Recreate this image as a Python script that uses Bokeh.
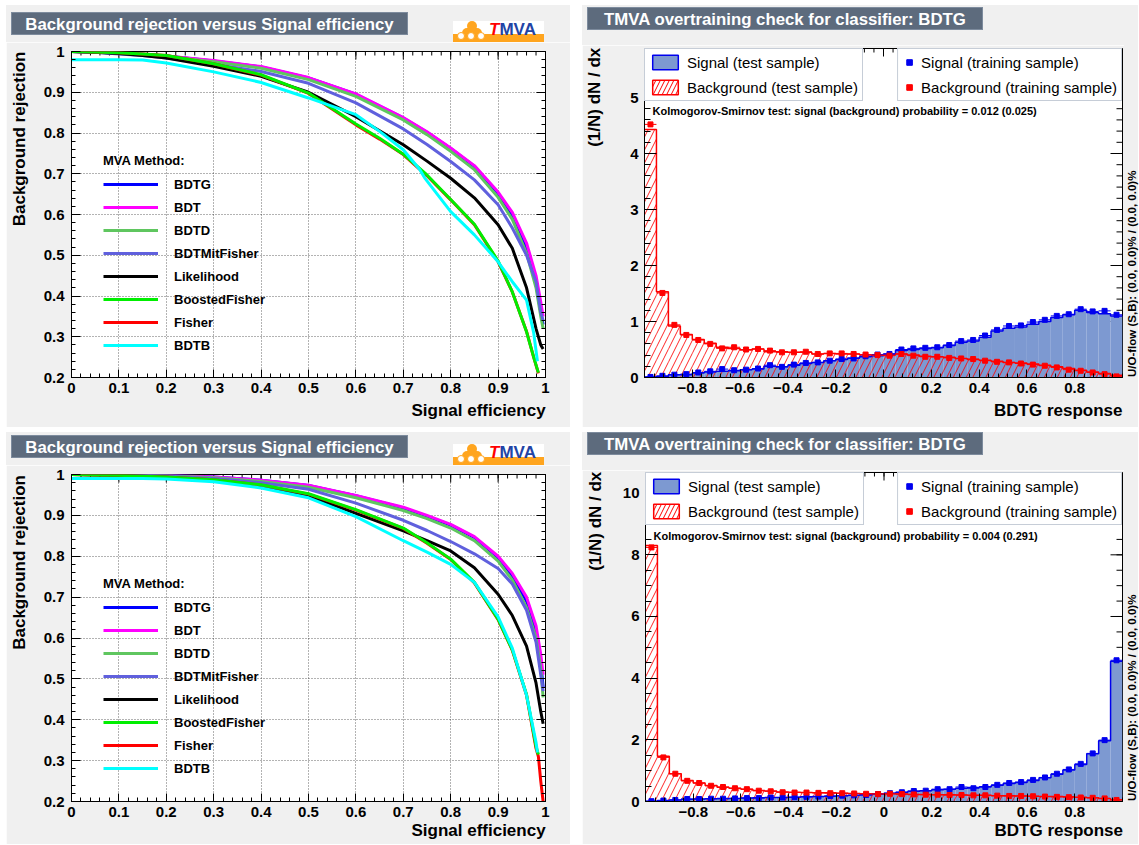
import numpy as np
from bokeh.plotting import figure
from bokeh.models import (ColumnDataSource, FixedTicker, Legend, LegendItem, LinearAxis, Range1d, Div, Label)
from bokeh.layouts import row, column
from bokeh.embed import file_html
from bokeh.resources import INLINE

FONT = "Liberation Sans"
CANVAS = "#f0f0f0"
TITLE_BOX = "#5D6B7D"
TITLE_BORDER = "#7D8B9D"
SIG_LINE = "#0000ee"
SIG_FILL = "#7d99d1"
BKG_LINE = "#ff0000"
NOVEL_BLUE = "#2244a5"
LOGO_ORANGE = "#ffa51f"
NBSP = "\u00a0"

# ---------------- ROC data ----------------
roc_methods = ["BDTG", "BDT", "BDTD", "BDTMitFisher", "Likelihood", "BoostedFisher", "Fisher", "BDTB"]
roc_draw_order = ["BDTG", "BDT", "BDTD", "BDTMitFisher", "Likelihood", "Fisher", "BoostedFisher", "BDTB"]
roc_colors = {"BDTG": "#0000ff", "BDT": "#ff00ff", "BDTD": "#5fc65f", "BDTMitFisher": "#6060dd",
              "Likelihood": "#000000", "BoostedFisher": "#00ee00", "Fisher": "#ff0000", "BDTB": "#00ffff"}

eff = [0.0, 0.05, 0.1, 0.15, 0.2, 0.3, 0.4, 0.5, 0.6, 0.7, 0.75, 0.8, 0.85, 0.9, 0.93, 0.96, 0.98, 0.99, 0.995]

# top-left panel
top_bdtg = [1.0, 0.999, 0.996, 0.993, 0.989, 0.977, 0.962, 0.935, 0.895, 0.837, 0.802, 0.762, 0.718, 0.652, 0.598, 0.515, 0.43, 0.36, 0.33]
top_bdt = [1.0, 0.999, 0.996, 0.993, 0.989, 0.978, 0.963, 0.936, 0.896, 0.838, 0.803, 0.763, 0.72, 0.655, 0.605, 0.53, 0.45, 0.385, 0.35]
top_bdtd = [1.0, 0.998, 0.995, 0.992, 0.988, 0.975, 0.959, 0.931, 0.89, 0.832, 0.796, 0.755, 0.71, 0.642, 0.588, 0.505, 0.42, 0.35, 0.32]
top_bdtmitfisher = [1.0, 0.998, 0.994, 0.99, 0.984, 0.969, 0.951, 0.922, 0.874, 0.81, 0.772, 0.73, 0.685, 0.624, 0.567, 0.5, 0.435, 0.36, 0.34]
top_likelihood = [1.0, 0.998, 0.995, 0.99, 0.984, 0.964, 0.939, 0.9, 0.84, 0.771, 0.731, 0.689, 0.641, 0.575, 0.517, 0.42, 0.32, 0.28, 0.27]
top_fisher_eff = [0.0, 0.05, 0.1, 0.15, 0.2, 0.3, 0.4, 0.5, 0.6, 0.65, 0.7, 0.75, 0.8, 0.85, 0.9, 0.93, 0.96, 0.975, 0.985]
top_fisher = [1.0, 0.999, 0.997, 0.994, 0.99, 0.97, 0.942, 0.897, 0.82, 0.785, 0.747, 0.695, 0.636, 0.575, 0.484, 0.41, 0.313, 0.25, 0.21]
top_boostedfisher = [1.0, 0.999, 0.997, 0.994, 0.99, 0.97, 0.943, 0.898, 0.822, 0.787, 0.748, 0.697, 0.637, 0.576, 0.486, 0.41, 0.312, 0.25, 0.212]
top_bdtb_eff = [0.0, 0.05, 0.1, 0.15, 0.2, 0.3, 0.4, 0.5, 0.6, 0.65, 0.7, 0.735, 0.745, 0.8, 0.85, 0.9, 0.93, 0.96, 0.975, 0.983]
top_bdtb = [0.98, 0.98, 0.98, 0.979, 0.972, 0.95, 0.924, 0.886, 0.845, 0.804, 0.759, 0.71, 0.69, 0.607, 0.55, 0.484, 0.435, 0.39, 0.31, 0.24]

# bottom-left panel
bot_bdtg = [1.0, 1.0, 1.0, 0.999, 0.998, 0.994, 0.986, 0.973, 0.948, 0.918, 0.898, 0.876, 0.846, 0.797, 0.752, 0.69, 0.615, 0.54, 0.48]
bot_bdt = [1.0, 1.0, 1.0, 0.999, 0.998, 0.994, 0.986, 0.974, 0.949, 0.92, 0.9, 0.878, 0.848, 0.8, 0.758, 0.7, 0.63, 0.56, 0.51]
bot_bdtd = [1.0, 1.0, 0.999, 0.998, 0.997, 0.992, 0.983, 0.969, 0.943, 0.912, 0.892, 0.869, 0.838, 0.788, 0.742, 0.675, 0.6, 0.525, 0.455]
bot_bdtmitfisher = [1.0, 1.0, 0.999, 0.998, 0.996, 0.99, 0.98, 0.964, 0.93, 0.888, 0.863, 0.836, 0.806, 0.77, 0.732, 0.668, 0.59, 0.51, 0.47]
bot_likelihood = [1.0, 0.999, 0.998, 0.996, 0.993, 0.985, 0.97, 0.948, 0.905, 0.862, 0.838, 0.813, 0.772, 0.707, 0.655, 0.58, 0.49, 0.42, 0.39]
bot_fisher_eff = [0.0, 0.05, 0.1, 0.15, 0.2, 0.3, 0.4, 0.5, 0.6, 0.7, 0.75, 0.8, 0.85, 0.9, 0.93, 0.96, 0.98, 0.985, 0.99, 0.995]
bot_fisher = [1.0, 0.999, 0.998, 0.996, 0.994, 0.987, 0.974, 0.952, 0.913, 0.868, 0.832, 0.792, 0.735, 0.645, 0.57, 0.46, 0.33, 0.31, 0.25, 0.2]
bot_boostedfisher_eff = [0.0, 0.05, 0.1, 0.15, 0.2, 0.3, 0.4, 0.5, 0.6, 0.7, 0.75, 0.8, 0.85, 0.9, 0.93, 0.96, 0.98, 0.985]
bot_boostedfisher = [1.0, 0.999, 0.998, 0.996, 0.994, 0.987, 0.975, 0.953, 0.914, 0.869, 0.833, 0.793, 0.736, 0.646, 0.571, 0.462, 0.335, 0.315]
bot_bdtb_eff = [0.0, 0.05, 0.1, 0.15, 0.2, 0.3, 0.4, 0.5, 0.6, 0.7, 0.75, 0.8, 0.85, 0.9, 0.93, 0.96, 0.98, 0.983]
bot_bdtb = [0.99, 0.99, 0.99, 0.99, 0.989, 0.982, 0.967, 0.943, 0.897, 0.838, 0.81, 0.78, 0.736, 0.652, 0.575, 0.46, 0.345, 0.32]

roc_x_ticks = [0.0, 0.1, 0.2, 0.3, 0.4, 0.5, 0.6, 0.7, 0.8, 0.9, 1.0]
roc_x_labels = ["0", "0.1", "0.2", "0.3", "0.4", "0.5", "0.6", "0.7", "0.8", "0.9", "1"]
roc_y_ticks = [0.2, 0.3, 0.4, 0.5, 0.6, 0.7, 0.8, 0.9, 1.0]
roc_y_labels = ["0.2", "0.3", "0.4", "0.5", "0.6", "0.7", "0.8", "0.9", "1"]

# ---------------- overtraining histograms (40 bins in [-1, 1]) ----------------
top_sig_test = [0.01, 0.02, 0.05, 0.05, 0.08, 0.10, 0.11, 0.12, 0.14, 0.15, 0.20, 0.19, 0.22, 0.25, 0.27, 0.30, 0.32, 0.35, 0.37, 0.39,
                0.42, 0.48, 0.50, 0.52, 0.53, 0.57, 0.63, 0.65, 0.72, 0.83, 0.88, 0.90, 0.95, 1.00, 1.07, 1.12, 1.20, 1.16, 1.14, 1.10]
top_sig_train = [0.01, 0.03, 0.05, 0.06, 0.09, 0.11, 0.15, 0.13, 0.14, 0.16, 0.22, 0.19, 0.23, 0.26, 0.27, 0.30, 0.33, 0.34, 0.38, 0.41,
                 0.42, 0.50, 0.52, 0.53, 0.54, 0.58, 0.65, 0.67, 0.75, 0.85, 0.92, 0.93, 0.99, 1.03, 1.10, 1.13, 1.22, 1.18, 1.19, 1.12]
top_bkg_test = [4.43, 1.53, 0.92, 0.77, 0.68, 0.61, 0.54, 0.52, 0.49, 0.51, 0.46, 0.46, 0.45, 0.45, 0.42, 0.43, 0.42, 0.42, 0.40, 0.40,
                0.40, 0.42, 0.40, 0.38, 0.37, 0.36, 0.34, 0.32, 0.31, 0.29, 0.27, 0.26, 0.24, 0.22, 0.19, 0.16, 0.13, 0.10, 0.07, 0.04]
top_bkg_train = [4.52, 1.51, 0.94, 0.76, 0.67, 0.60, 0.52, 0.54, 0.50, 0.51, 0.48, 0.45, 0.45, 0.46, 0.42, 0.43, 0.43, 0.42, 0.41, 0.40,
                 0.39, 0.42, 0.39, 0.37, 0.37, 0.35, 0.34, 0.33, 0.30, 0.28, 0.27, 0.25, 0.23, 0.21, 0.18, 0.14, 0.12, 0.09, 0.06, 0.02]

bot_sig_test = [0.01, 0.03, 0.05, 0.07, 0.08, 0.09, 0.10, 0.10, 0.11, 0.12, 0.13, 0.13, 0.14, 0.15, 0.16, 0.17, 0.19, 0.20, 0.22, 0.24,
                0.27, 0.30, 0.33, 0.35, 0.38, 0.40, 0.43, 0.45, 0.48, 0.53, 0.58, 0.62, 0.68, 0.77, 0.88, 1.02, 1.20, 1.55, 1.97, 4.55]
bot_sig_train = [0.01, 0.03, 0.05, 0.08, 0.08, 0.09, 0.09, 0.10, 0.11, 0.11, 0.13, 0.13, 0.14, 0.15, 0.16, 0.18, 0.19, 0.20, 0.21, 0.24,
                 0.27, 0.30, 0.34, 0.35, 0.40, 0.40, 0.47, 0.43, 0.47, 0.54, 0.60, 0.63, 0.70, 0.78, 0.90, 1.04, 1.22, 1.56, 1.99, 4.58]
bot_bkg_test = [8.30, 1.47, 0.90, 0.68, 0.60, 0.52, 0.46, 0.43, 0.40, 0.36, 0.34, 0.31, 0.30, 0.29, 0.28, 0.28, 0.27, 0.26, 0.25, 0.25,
                0.25, 0.24, 0.23, 0.23, 0.22, 0.22, 0.21, 0.20, 0.20, 0.19, 0.19, 0.18, 0.17, 0.16, 0.16, 0.15, 0.14, 0.12, 0.10, 0.06]
bot_bkg_train = [8.24, 1.43, 0.90, 0.67, 0.60, 0.51, 0.47, 0.43, 0.40, 0.35, 0.33, 0.30, 0.29, 0.29, 0.28, 0.27, 0.27, 0.26, 0.25, 0.24,
                 0.25, 0.24, 0.23, 0.22, 0.22, 0.21, 0.21, 0.20, 0.20, 0.19, 0.18, 0.18, 0.17, 0.16, 0.15, 0.14, 0.13, 0.12, 0.10, 0.05]

hist_x_ticks = [-0.8, -0.6, -0.4, -0.2, 0.0, 0.2, 0.4, 0.6, 0.8]
hist_x_labels = ["\u22120.8", "\u22120.6", "\u22120.4", "\u22120.2", "0", "0.2", "0.4", "0.6", "0.8"]
top_hist_y_ticks = [0, 1, 2, 3, 4, 5]
top_hist_y_labels = ["0", "1", "2", "3", "4", "5"]
bot_hist_y_ticks = [0, 2, 4, 6, 8, 10]
bot_hist_y_labels = ["0", "2", "4", "6", "8", "10"]

roc_title = "Background rejection versus Signal efficiency"
hist_title = "TMVA overtraining check for classifier: BDTG"
top_ks_text = "Kolmogorov-Smirnov test: signal (background) probability = 0.012 (0.025)"
bot_ks_text = "Kolmogorov-Smirnov test: signal (background) probability = 0.004 (0.291)"
uo_text = "U/O-flow (S,B): (0.0, 0.0)% / (0.0, 0.0)%"


# ---------------- helpers ----------------
def style_axis(ax, ticks, labels, minor, tick_len, standoff, show_labels=True):
    ax.ticker = FixedTicker(ticks=list(ticks), minor_ticks=list(minor))
    ax.axis_line_color = "black"
    ax.axis_line_width = 1
    ax.major_tick_in = tick_len
    ax.major_tick_out = 0
    ax.minor_tick_in = max(3, tick_len // 2)
    ax.minor_tick_out = 0
    ax.major_tick_line_color = "black"
    ax.minor_tick_line_color = "black"
    ax.major_label_text_font = FONT
    ax.major_label_text_font_style = "bold"
    ax.major_label_text_font_size = "15px"
    ax.major_label_text_color = "black"
    ax.major_label_standoff = standoff
    if show_labels:
        ax.major_label_overrides = {t: l for t, l in zip(ticks, labels)}
    else:
        ax.major_label_overrides = {t: "" for t in ticks}
    ax.axis_label_text_font = FONT
    ax.axis_label_text_font_style = "bold"
    ax.axis_label_text_font_size = "17px"
    ax.axis_label_text_color = "black"


def edge_ticks(p, xs, ys, size, angle):
    # mirrored ticks on the upper / right frame edge (half of each dash is clipped away by the frame)
    p.scatter(x=list(xs), y=list(ys), marker="dash", angle=angle, size=size,
              line_color="black", line_width=1)


def header_div(width, height, title, box_left, box_top, box_w, box_h, logo_pos=None):
    html = [f'<div style="position:relative;width:{width}px;height:{height}px;background:{CANVAS};'
            f'overflow:hidden;margin:0;padding:0;">']
    html.append(
        f'<div style="position:absolute;left:{box_left}px;top:{box_top}px;width:{box_w - 2}px;height:{box_h - 2}px;'
        f'background:{TITLE_BOX};border:1px solid {TITLE_BORDER};color:#ffffff;font-family:\'{FONT}\';'
        f'font-weight:bold;font-size:16.8px;line-height:{box_h - 2}px;text-align:center;white-space:nowrap;">'
        f'{title}</div>')
    if logo_pos is not None:
        lx, ly = logo_pos
        html.append(
            f'<div style="position:absolute;left:{lx}px;top:{ly}px;width:91px;height:21px;background:#ffffff;overflow:hidden;">'
            f'<div style="position:absolute;left:0;bottom:0;width:91px;height:8px;background:{LOGO_ORANGE};"></div>'
            f'<div style="position:absolute;left:9px;top:7px;width:20px;height:8px;background:{LOGO_ORANGE};border-radius:5px 5px 0 0;"></div>'
            f'<div style="position:absolute;left:14px;top:0px;width:10px;height:10px;border-radius:50%;background:{LOGO_ORANGE};"></div>'
            + "".join(
                f'<div style="position:absolute;left:{cx}px;top:11px;width:8px;height:8px;border-radius:50%;'
                f'background:#ffffff;border:1px solid {LOGO_ORANGE};"></div>' for cx in (4, 14, 24))
            + f'<div style="position:absolute;left:36px;top:0px;height:17px;line-height:17px;font-family:\'{FONT}\';'
              f'font-weight:bold;font-size:17px;white-space:nowrap;">'
              f'<span style="color:#ff0000;font-style:italic;">T</span><span style="color:{NOVEL_BLUE};">MVA</span></div>'
            f'</div>')
    html.append('</div>')
    return Div(text="".join(html), width=width, height=height, margin=0)


def side_text_div(width, height, text, start_y, left):
    # text written upwards, starting at start_y (pixels from the top of this strip)
    html = (f'<div style="position:relative;width:{width}px;height:{height}px;background:{CANVAS};margin:0;padding:0;">'
            f'<div style="position:absolute;left:{left}px;top:{start_y}px;transform-origin:0 0;transform:rotate(-90deg);'
            f'white-space:nowrap;font-family:\'{FONT}\';font-weight:bold;font-size:11.5px;line-height:12px;color:#000;">'
            f'{text}</div></div>')
    return Div(text=html, width=width, height=height, margin=0)


def roc_panel(height, b_top, b_bottom, series, xlabel_standoff, legend_y):
    p = figure(width=564, height=height, x_range=Range1d(0, 1), y_range=Range1d(0.2, 1),
               output_backend="svg", toolbar_location=None,
               min_border_left=61, min_border_right=25, min_border_top=b_top, min_border_bottom=b_bottom,
               border_fill_color=CANVAS, background_fill_color="white",
               outline_line_color="black", outline_line_width=1)
    xminor = [round(0.02 * i, 3) for i in range(51)]
    yminor = [round(0.2 + 0.02 * i, 3) for i in range(41)]
    style_axis(p.xaxis[0], roc_x_ticks, roc_x_labels, xminor, 8, 5)
    style_axis(p.yaxis[0], roc_y_ticks, roc_y_labels, yminor, 9, 7)
    ax_right = LinearAxis()
    style_axis(ax_right, roc_y_ticks, roc_y_labels, yminor, 9, 0, show_labels=False)
    p.add_layout(ax_right, "right")
    p.xaxis[0].axis_label = NBSP * 72 + "Signal efficiency"
    p.xaxis[0].axis_label_standoff = xlabel_standoff
    p.yaxis[0].axis_label = NBSP * 32 + "Background rejection"
    p.yaxis[0].axis_label_standoff = 12
    p.xgrid.ticker = FixedTicker(ticks=roc_x_ticks)
    p.ygrid.ticker = FixedTicker(ticks=roc_y_ticks)
    p.grid.grid_line_color = "black"
    p.grid.grid_line_alpha = 0.6
    p.grid.grid_line_dash = "1 2"
    p.grid.grid_line_width = 1
    edge_ticks(p, roc_x_ticks, [1.0] * len(roc_x_ticks), 16, np.pi / 2)
    edge_ticks(p, xminor, [1.0] * len(xminor), 8, np.pi / 2)

    rends = {}
    for m in roc_draw_order:
        xs, ys = series[m]
        rends[m] = p.line(x=xs, y=ys, line_width=3, line_color=roc_colors[m])

    leg = Legend(items=[LegendItem(label=m, renderers=[rends[m]]) for m in roc_methods],
                 location=(28, legend_y), title="MVA Method:",
                 title_text_font=FONT, title_text_font_style="bold", title_text_font_size="13px",
                 title_text_color="black", title_standoff=6,
                 label_text_font=FONT, label_text_font_style="bold", label_text_font_size="13px",
                 label_text_color="black",
                 glyph_width=55, glyph_height=20, label_height=20, label_standoff=16,
                 spacing=3, padding=4, margin=0,
                 background_fill_alpha=0, border_line_alpha=0)
    p.add_layout(leg)
    return p


def hist_panel(height, b_top, b_bottom, ymax, yticks, ylabels, yminor, sig_test, sig_train, bkg_test, bkg_train,
               ks_text, xlabel_standoff, ylabel_standoff, ks_y):
    p = figure(width=542, height=height, x_range=Range1d(-1, 1), y_range=Range1d(0, ymax),
               output_backend="svg", toolbar_location=None,
               min_border_left=59, min_border_right=2, min_border_top=b_top, min_border_bottom=b_bottom,
               border_fill_color=CANVAS, background_fill_color="white",
               outline_line_color="black", outline_line_width=1)
    xminor = [round(-1 + 0.04 * i, 3) for i in range(51)]
    style_axis(p.xaxis[0], hist_x_ticks, hist_x_labels, xminor, 8, 5)
    style_axis(p.yaxis[0], yticks, ylabels, yminor, 12, 6)
    p.xaxis[0].axis_label = NBSP * 74 + "BDTG response"
    p.xaxis[0].axis_label_standoff = xlabel_standoff
    p.yaxis[0].axis_label = NBSP * 49 + "(1/N) dN / dx"
    p.yaxis[0].axis_label_standoff = ylabel_standoff
    p.grid.visible = False
    edge_ticks(p, hist_x_ticks, [ymax] * len(hist_x_ticks), 16, np.pi / 2)
    edge_ticks(p, xminor, [ymax] * len(xminor), 8, np.pi / 2)
    edge_ticks(p, [1.0] * len(yticks), yticks, 24, 0.0)
    edge_ticks(p, [1.0] * len(yminor), yminor, 12, 0.0)

    nb = len(sig_test)
    edges = np.linspace(-1.0, 1.0, nb + 1)
    src = ColumnDataSource(dict(left=edges[:-1], right=edges[1:], center=0.5 * (edges[:-1] + edges[1:]),
                                st=sig_test, sr=sig_train, bt=bkg_test, br=bkg_train))
    p.quad(left="left", right="right", bottom=0, top="st", source=src, fill_color=SIG_FILL, line_color=None)
    p.quad(left="left", right="right", bottom=0, top="bt", source=src, fill_color=None, line_color=None,
           hatch_pattern="/", hatch_color=BKG_LINE, hatch_scale=13, hatch_weight=1, hatch_alpha=0.85)
    p.step(x=edges, y=list(sig_test) + [sig_test[-1]], mode="after", line_color=SIG_LINE, line_width=1.5)
    p.step(x=edges, y=list(bkg_test) + [bkg_test[-1]], mode="after", line_color=BKG_LINE, line_width=1.5)
    p.segment(x0="left", x1="right", y0="sr", y1="sr", source=src, line_color=SIG_LINE, line_width=1)
    p.segment(x0="left", x1="right", y0="br", y1="br", source=src, line_color=BKG_LINE, line_width=1)
    r_sig = p.scatter(x="center", y="sr", source=src, marker="square", size=5, color=SIG_LINE)
    r_bkg = p.scatter(x="center", y="br", source=src, marker="square", size=5, color=BKG_LINE)

    nanv = np.array([np.nan])
    d_sig = p.quad(left=nanv, right=nanv, top=nanv, bottom=nanv, fill_color=SIG_FILL,
                   line_color=SIG_LINE, line_width=1.5)
    d_bkg = p.quad(left=nanv, right=nanv, top=nanv, bottom=nanv, fill_color="white",
                   line_color=BKG_LINE, line_width=1.5, hatch_pattern="/", hatch_color=BKG_LINE,
                   hatch_scale=9, hatch_weight=1)

    common = dict(margin=0, padding=4, spacing=7, glyph_height=18, label_height=18,
                  label_text_font=FONT, label_text_font_size="15px", label_text_font_style="normal",
                  label_text_color="black",
                  border_line_color="#8d9bb0", border_line_width=1,
                  background_fill_color="white", background_fill_alpha=1.0)
    leg_l = Legend(items=[LegendItem(label="Signal (test sample)", renderers=[d_sig]),
                          LegendItem(label="Background (test sample)", renderers=[d_bkg])],
                   location="top_left", glyph_width=32, label_standoff=6, **common)
    leg_r = Legend(items=[LegendItem(label="Signal (training sample)", renderers=[r_sig]),
                          LegendItem(label="Background (training sample)", renderers=[r_bkg])],
                   location="top_right", glyph_width=14, label_standoff=5, **common)
    p.add_layout(leg_l)
    p.add_layout(leg_r)

    p.add_layout(Label(x=8, y=ks_y, x_units="screen", y_units="screen", text=ks_text,
                       text_font=FONT, text_font_size="11px", text_font_style="bold",
                       text_color="black", text_baseline="middle"))
    return p


top_series = {
    "BDTG": (eff, top_bdtg), "BDT": (eff, top_bdt), "BDTD": (eff, top_bdtd),
    "BDTMitFisher": (eff, top_bdtmitfisher), "Likelihood": (eff, top_likelihood),
    "Fisher": (top_fisher_eff, top_fisher), "BoostedFisher": (top_fisher_eff, top_boostedfisher),
    "BDTB": (top_bdtb_eff, top_bdtb),
}
bot_series = {
    "BDTG": (eff, bot_bdtg), "BDT": (eff, bot_bdt), "BDTD": (eff, bot_bdtd),
    "BDTMitFisher": (eff, bot_bdtmitfisher), "Likelihood": (eff, bot_likelihood),
    "Fisher": (bot_fisher_eff, bot_fisher), "BoostedFisher": (bot_boostedfisher_eff, bot_boostedfisher),
    "BDTB": (bot_bdtb_eff, bot_bdtb),
}

# ---- top-left: header 37 + figure 385 (frame 51..377) ----
hA = header_div(564, 37, roc_title, 5, 7, 399, 25, logo_pos=(447, 16))
pA = roc_panel(385, 9, 50, top_series, 5, 18)
# ---- bottom-left: header 33 + figure 379 (frame 474..801) ----
hC = header_div(564, 33, roc_title, 5, 3, 399, 25, logo_pos=(447, 12))
pC = roc_panel(379, 9, 43, bot_series, 1, 19)

top_yminor = [round(0.2 * i, 2) for i in range(30)]
bot_yminor = [round(0.5 * i, 2) for i in range(22)]
# ---- top-right: header 40 + figure 382 (frame 48..377) ----
hB = header_div(556, 40, hist_title, 5, 2, 398, 25)
pB = hist_panel(382, 3, 50, 5.875, top_hist_y_ticks, top_hist_y_labels, top_yminor,
                top_sig_test, top_sig_train, top_bkg_test, top_bkg_train, top_ks_text, 5, 23, 267)
uB = side_text_div(14, 382, uo_text, 332, 2)
# ---- bottom-right: header 38 + figure 374 (frame 472..801) ----
hD = header_div(556, 38, hist_title, 5, 0, 398, 25)
pD = hist_panel(374, 2, 43, 10.67, bot_hist_y_ticks, bot_hist_y_labels, bot_yminor,
                bot_sig_test, bot_sig_train, bot_bkg_test, bot_bkg_train, bot_ks_text, 1, 15, 266)
uD = side_text_div(14, 374, uo_text, 331, 2)

colA = column(hA, pA, spacing=0)
colB = column(hB, row(pB, uB, spacing=0), spacing=0)
colC = column(hC, pC, spacing=0)
colD = column(hD, row(pD, uD, spacing=0), spacing=0)
layout = column(row(colA, colB, spacing=12), row(colC, colD, spacing=12), spacing=5, margin=(5, 0, 0, 6))

with open("out.html", "w") as f:
    f.write(file_html(layout, INLINE))
